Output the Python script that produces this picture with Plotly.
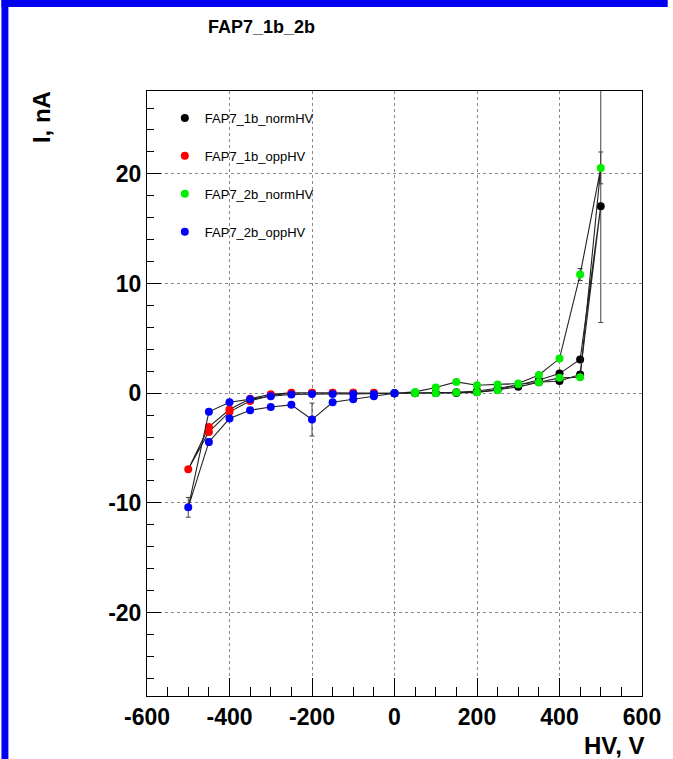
import plotly.graph_objects as go

# Bias sweeps: 0 -> +/-500 V and back to 0 in 50 V steps
hv_norm = [0, 50, 100, 150, 200, 250, 300, 350, 400, 450, 500,
           450, 400, 350, 300, 250, 200, 150, 100, 50, 0]
hv_opp = [0, -50, -100, -150, -200, -250, -300, -350, -400, -450, -500,
          -450, -400, -350, -300, -250, -200, -150, -100, -50, 0]

# Currents, nA
i_1b_norm = [0.0, 0.0, 0.02, 0.03, 0.08, 0.3, 0.58, 1.0, 1.12, 1.7, 17.05,
             3.07, 1.79, 1.2, 0.75, 0.45, 0.2, 0.08, 0.03, 0.01, 0.0]
e_1b_norm = [0.05, 0.05, 0.05, 0.05, 0.05, 0.05, 0.05, 0.1, 0.1, 0.2, 10.6,
             0.2, 0.1, 0.1, 0.05, 0.05, 0.05, 0.05, 0.05, 0.05, 0.05]

i_1b_opp = [0.0, 0.03, 0.04, 0.05, 0.05, 0.05, -0.1, -0.5, -1.49, -3.07, -6.93,
            -3.53, -1.70, -0.70, -0.2, 0.0, 0.05, 0.05, 0.05, 0.04, 0.0]
e_1b_opp = [0.05, 0.05, 0.05, 0.05, 0.05, 0.05, 0.05, 0.1, 0.1, 0.2, 0.2,
            0.2, 0.1, 0.1, 0.05, 0.05, 0.05, 0.05, 0.05, 0.05, 0.05]

i_2b_norm = [0.0, 0.0, 0.0, 0.06, 0.1, 0.27, 0.82, 1.0, 1.40, 1.46, 20.54,
             10.82, 3.16, 1.67, 0.88, 0.79, 0.73, 1.03, 0.52, 0.12, 0.0]
e_2b_norm = [0.05, 0.05, 0.05, 0.05, 0.05, 0.05, 0.05, 0.1, 0.1, 0.2, 1.45,
             0.55, 0.2, 0.1, 0.05, 0.05, 0.05, 0.05, 0.05, 0.05, 0.05]

i_2b_opp = [0.0, -0.27, -0.55, -0.82, -2.40, -1.06, -1.25, -1.55, -2.31, -4.44, -10.4,
            -1.70, -0.82, -0.55, -0.27, -0.12, -0.06, -0.06, -0.06, -0.06, 0.0]
e_2b_opp = [0.05, 0.05, 0.05, 0.1, 1.5, 0.1, 0.1, 0.1, 0.15, 0.3, 0.9,
            0.1, 0.1, 0.05, 0.05, 0.05, 0.05, 0.05, 0.05, 0.05, 0.05]

series = [
    ("FAP7_1b_normHV", hv_norm, i_1b_norm, e_1b_norm, "#000000"),
    ("FAP7_1b_oppHV", hv_opp, i_1b_opp, e_1b_opp, "#ff0000"),
    ("FAP7_2b_normHV", hv_norm, i_2b_norm, e_2b_norm, "#00ee00"),
    ("FAP7_2b_oppHV", hv_opp, i_2b_opp, e_2b_opp, "#0000ff"),
]

x_ticks = [-600, -400, -200, 0, 200, 400, 600]
y_ticks = [-20, -10, 0, 10, 20]

fig = go.Figure()
for name, xs, ys, es, col in series:
    fig.add_trace(go.Scatter(
        x=xs, y=ys, mode="lines", showlegend=False, legendgroup=name,
        line=dict(color="#222222", width=1.1),
        error_y=dict(type="data", array=es, visible=True,
                     color="#444444", thickness=1, width=2.5),
        hoverinfo="skip"))
    fig.add_trace(go.Scatter(
        x=xs, y=ys, mode="markers", name=name, legendgroup=name,
        marker=dict(color=col, size=8, symbol="circle", line=dict(width=0))))

bold = dict(family="Liberation Sans", size=23, color="black", weight="bold")

fig.update_xaxes(
    range=[-600, 600], tickvals=x_ticks, ticktext=[str(v) for v in x_ticks],
    ticks="inside", ticklen=18, tickwidth=1, tickcolor="black",
    minor=dict(dtick=50, tick0=0, ticks="inside", ticklen=9, tickcolor="black", showgrid=False),
    showgrid=True, griddash="dot", gridcolor="#888888", gridwidth=1,
    zeroline=False, showline=True, mirror=True, linecolor="black", linewidth=1,
    tickfont=bold)
fig.update_yaxes(
    range=[-27.6, 27.55], tickvals=y_ticks, ticktext=[str(v) for v in y_ticks],
    ticks="inside", ticklen=14, tickwidth=1, tickcolor="black",
    minor=dict(dtick=2, tick0=0, ticks="inside", ticklen=7, tickcolor="black", showgrid=False),
    showgrid=True, griddash="dot", gridcolor="#888888", gridwidth=1,
    zeroline=False, showline=True, mirror=True, linecolor="black", linewidth=1,
    tickfont=bold)

W, H = 673, 759
ml, mr, mt, mb = 147, 26, 91, 63
pw, ph = W - ml - mr, H - mt - mb


def px_x(p):
    return (p - ml) / pw


def px_y(p):
    return (H - mb - p) / ph


shapes = [
    # white legend pad over the grid
    dict(type="rect", xref="paper", yref="paper", x0=0.002, x1=px_x(348),
         y0=px_y(250), y1=0.998, fillcolor="white", line=dict(width=0), layer="between"),
    # canvas window frame (left and top edges)
    dict(type="rect", xref="paper", yref="paper", x0=px_x(0), x1=px_x(7),
         y0=px_y(H), y1=px_y(0), fillcolor="#0000f0", line=dict(width=0), layer="above"),
    dict(type="rect", xref="paper", yref="paper", x0=px_x(0), x1=px_x(W),
         y0=px_y(7), y1=px_y(0), fillcolor="#0000f0", line=dict(width=0), layer="above"),
]

annotations = [
    dict(text="FAP7_1b_2b", xref="paper", yref="paper", x=px_x(263), y=px_y(27),
         xanchor="center", yanchor="middle", showarrow=False,
         font=dict(family="Liberation Sans", size=18, color="black", weight="bold")),
    dict(text="HV, V", xref="paper", yref="paper", x=px_x(651), y=px_y(745),
         xanchor="right", yanchor="middle", showarrow=False,
         font=dict(family="Liberation Sans", size=24, color="black", weight="bold")),
    dict(text="I, nA", xref="paper", yref="paper", x=px_x(40), y=px_y(89),
         xanchor="center", yanchor="top", textangle=-90, showarrow=False,
         font=dict(family="Liberation Sans", size=24, color="black", weight="bold")),
]

fig.update_layout(
    width=W, height=H, margin=dict(l=ml, r=mr, t=mt, b=mb),
    paper_bgcolor="white", plot_bgcolor="white",
    shapes=shapes, annotations=annotations,
    showlegend=True,
    legend=dict(x=px_x(165), y=px_y(103), xanchor="left", yanchor="top",
                bgcolor="rgba(0,0,0,0)", tracegroupgap=18,
                font=dict(family="Liberation Sans", size=13, color="black")),
)

fig.write_html("out.html")
